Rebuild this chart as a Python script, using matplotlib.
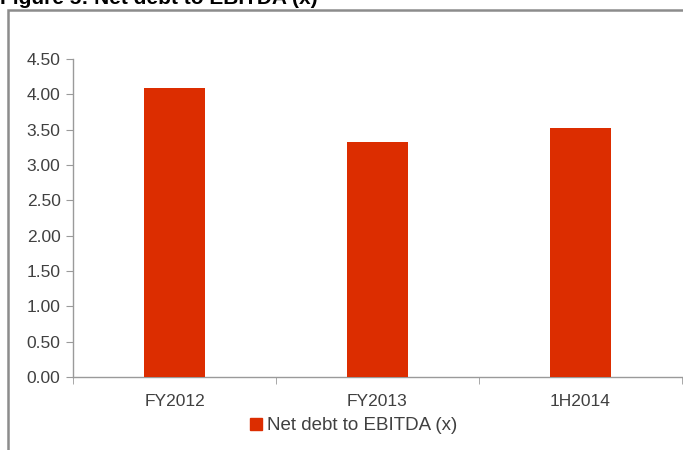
import matplotlib
matplotlib.use("Agg")
from matplotlib import pyplot as plt
from matplotlib.patches import Rectangle, Patch
import numpy as np

# data
categories = ["FY2012", "FY2013", "1H2014"]
values = [4.09, 3.33, 3.52]
series_name = "Net debt to EBITDA (x)"
title = "Figure 5: Net debt to EBITDA (x)"

bar_color = "#dc2d00"
axis_color = "#9a9a9a"
text_color = "#404040"

plt.rcParams["font.family"] = ["Liberation Sans", "DejaVu Sans"]

W, H = 683, 450
fig = plt.figure(figsize=(W / 100, H / 100), dpi=100)

# outer frame, partly cut by the crop
fig.patches.append(Rectangle((8 / W, -0.1), 1.2, 1 - 10 / H + 0.1,
                             transform=fig.transFigure, fill=False,
                             edgecolor="#8c8c8c", linewidth=1.8))
fig.text(0, 1 - 4 / H, title, fontsize=15, fontweight="bold",
         color="black", va="baseline", ha="left")

ax = fig.add_axes([73 / W, 1 - 377 / H, (682 - 73) / W, (377 - 59) / H])
x = np.arange(len(categories))
ax.bar(x, values, width=0.3, color=bar_color, label=series_name, zorder=3)

ax.set_xlim(-0.5, len(categories) - 0.5)
ax.set_ylim(0, 4.5)
ax.set_yticks(np.arange(0, 4.51, 0.5))
ax.set_yticklabels(["%.2f" % v for v in np.arange(0, 4.51, 0.5)])
ax.set_xticks(x)
ax.set_xticklabels(categories)
ax.set_xticks(np.arange(-0.5, len(categories), 1.0), minor=True)
ax.tick_params(axis="x", which="major", length=0, pad=12, labelsize=12.5,
               labelcolor=text_color)
ax.tick_params(axis="x", which="minor", length=5, color=axis_color,
               direction="out")
ax.tick_params(axis="y", length=5, color=axis_color, direction="out",
               labelsize=12.5, labelcolor=text_color, pad=4)

for s in ["top", "right"]:
    ax.spines[s].set_visible(False)
for s in ["left", "bottom"]:
    ax.spines[s].set_color(axis_color)
    ax.spines[s].set_linewidth(1)

leg = fig.legend(handles=[Patch(color=bar_color, label=series_name)],
                 loc="center", bbox_to_anchor=(354 / W, 1 - 426 / H),
                 frameon=False, fontsize=13.5, handlelength=0.6,
                 handleheight=0.6, handletextpad=0.3)
for t in leg.get_texts():
    t.set_color(text_color)

fig.savefig("out.png", dpi=100)
